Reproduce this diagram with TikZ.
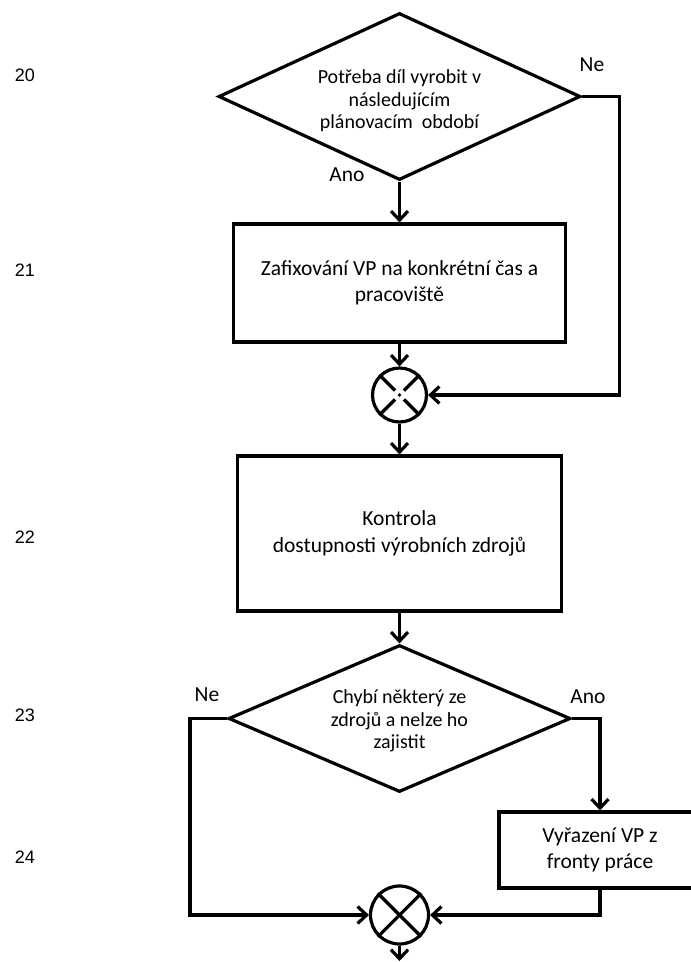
\documentclass[tikz,border=0pt]{standalone}
\usepackage{fontspec}
\setmainfont{Carlito}
\newfontfamily\numfont{Liberation Sans}
\usetikzlibrary{shapes.geometric,arrows.meta,calc}
\begin{document}
\begin{tikzpicture}[x=1pt,y=-1pt,
  line width=3.2pt,
  arr/.style={-{Straight Barb[length=9pt,width=17pt]}},
  dec/.style={draw,diamond,aspect=2.17,inner sep=0pt},
  dectext/.style={inner sep=0pt,align=center,font=\fontsize{20}{22.5}\selectfont},
  proc/.style={draw,rectangle,inner sep=0pt,align=center,font=\fontsize{21.5}{26.5}\selectfont},
  junc/.style={draw,circle,inner sep=0pt},
  lab/.style={inner sep=0pt,font=\fontsize{21.5}{26.5}\selectfont},
  num/.style={inner sep=0pt,font=\numfont\fontsize{18}{20}\selectfont}]
\useasboundingbox (0,0) rectangle (691,962);
% step numbers
\node[num] (n20) at (25,75) {20};
\node[num] (n21) at (25,270) {21};
\node[num] (n22) at (25,537) {22};
\node[num] (n23) at (25,715) {23};
\node[num] (n24) at (25,857) {24};
% shapes
\node[dec,minimum width=362pt,minimum height=167pt] (d1) at (399.5,96.5) {};
\node[dectext] (d1t) at (399.5,101)
  {Potřeba díl vyrobit v\\následujícím\\plánovacím\ \ období};
\node[proc,minimum width=332pt,minimum height=118pt] (b1) at (399.5,283)
  {Zafixování VP na konkrétní čas a\\pracoviště};
\node[junc,minimum size=54pt] (c1) at (399.5,395) {};
\node[proc,minimum width=324pt,minimum height=155pt] (b3) at (399.5,533.5)
  {\raisebox{-3pt}{\begin{tabular}{@{}c@{}}Kontrola\\dostupnosti výrobních zdrojů\end{tabular}}};
\node[dec,minimum width=342pt,minimum height=147pt] (d2) at (399.5,718.5) {};
\node[dectext] (d2t) at (399.5,721)
  {Chybí některý ze\\zdrojů a nelze ho\\zajistit};
\node[proc,minimum width=202pt,minimum height=76pt] (b4) at (600,850)
  {Vyřazení VP z\\fronty práce};
\node[junc,minimum size=58pt] (c2) at (399.5,915) {};
\coordinate (end) at (399.5,961);
% crosses
\draw ($(c1.center)!0.22!(c1.north east)$) -- (c1.north east);
\draw ($(c1.center)!0.22!(c1.north west)$) -- (c1.north west);
\draw ($(c1.center)!0.22!(c1.south east)$) -- (c1.south east);
\draw ($(c1.center)!0.22!(c1.south west)$) -- (c1.south west);
\fill (c1.center) circle (1.8pt);
\draw (c2.north east) -- (c2.south west);
\draw (c2.north west) -- (c2.south east);
% labels
\node[lab] (ne1) at (592,65) {Ne};
\node[lab] (ano1) at (347,175) {Ano};
\node[lab] (ne2) at (207,695) {Ne};
\node[lab] (ano2) at (588,697) {Ano};
% connectors
\draw[arr] (d1.south) -- (b1.north);
\draw[arr] (b1.south) -- (c1.north);
\draw[arr] (d1.east) -- ++(37,0) |- (c1.east);
\draw[arr] (c1.south) -- (b3.north);
\draw[arr] (b3.south) -- (d2.north);
\draw[arr] (d2.west) -- ++(-37,0) |- (c2.west);
\draw[arr] (d2.east) -| (b4.north);
\draw[arr] (b4.south) |- (c2.east);
\draw[arr] (c2.south) -- (end);
\end{tikzpicture}
\end{document}
